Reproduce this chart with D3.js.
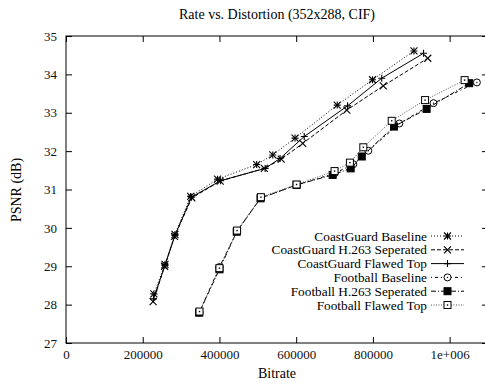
<html>
<head>
  <script src="https://d3js.org/d3.v7.min.js"></script>
  <style>
  body{ margin:0; background:#fff; }
  svg{ display:block; font-family:"Liberation Serif","Times New Roman",serif; }
  </style>
</head>
<body>
<script type="text/javascript">
  var width=485, height=388;
  var padL=66, padR=488, padT=36, padB=343;

  var xTicks=[0,200000,400000,600000,800000,1000000];
  var xTickLabels=["0","200000","400000","600000","800000","1e+006"];
  var yTicks=[27,28,29,30,31,32,33,34,35];

  var seriesNames=["CoastGuard Baseline","CoastGuard H.263 Seperated","CoastGuard Flawed Top",
                   "Football Baseline","Football H.263 Seperated","Football Flawed Top"];

  var cgBaseX=[229000,258000,284000,325000,395000,497000,539000,597000,707000,799000,907000];
  var cgBaseY=[28.28,29.05,29.83,30.82,31.27,31.65,31.90,32.34,33.20,33.86,34.61];
  var cgH263X=[227000,257000,283000,328000,402000,517000,561000,617000,732000,827000,943000];
  var cgH263Y=[28.08,29.00,29.78,30.78,31.22,31.55,31.79,32.20,33.07,33.70,34.42];
  var cgFlawX=[228000,258000,284000,327000,403000,519000,558000,621000,734000,823000,932000];
  var cgFlawY=[28.15,29.02,29.80,30.80,31.23,31.55,31.81,32.38,33.18,33.90,34.55];
  var fbBaseX=[348000,400000,446000,508000,602000,700000,749000,788000,869000,958000,1071000];
  var fbBaseY=[27.80,28.98,29.92,30.78,31.12,31.42,31.66,32.01,32.72,33.25,33.79];
  var fbH263X=[347000,400000,445000,507000,601000,695000,742000,771000,855000,940000,1051000];
  var fbH263Y=[27.79,28.92,29.90,30.77,31.12,31.38,31.55,31.86,32.64,33.10,33.77];
  var fbFlawX=[348000,400000,446000,508000,601000,700000,740000,775000,849000,936000,1039000];
  var fbFlawY=[27.82,28.95,29.93,30.80,31.13,31.48,31.70,32.10,32.79,33.33,33.85];

  var allX=[cgBaseX,cgH263X,cgFlawX,fbBaseX,fbH263X,fbFlawX];
  var allY=[cgBaseY,cgH263Y,cgFlawY,fbBaseY,fbH263Y,fbFlawY];
  var dashes=["1,2","4,2","","1,3,3,3","5,2,1,2","1,1.5"];
  var markers=["star","cross","plus","circle","fsquare","square"];
  var strokes=["#000","#000","#000","#000","#000","#555"];

  var x=d3.scaleLinear().domain([0,1100000]).range([padL,padR]);
  var y=d3.scaleLinear().domain([27,35]).range([padB,padT]);

  var svg=d3.select("body").append("svg")
            .attr("width",width)
            .attr("height",height);

  // frame
  svg.append("rect")
     .attr("x",padL).attr("y",padT)
     .attr("width",padR-padL).attr("height",padB-padT)
     .attr("fill","none").attr("stroke","#000").attr("stroke-width",1);

  // axes
  var ax=svg.append("g").attr("transform","translate(0,"+padB+")")
     .call(d3.axisBottom(x).tickValues(xTicks).tickSizeInner(-6).tickSizeOuter(0).tickPadding(7)
          .tickFormat(function(d,i){ return xTickLabels[i]; }));
  var ay=svg.append("g").attr("transform","translate("+padL+",0)")
     .call(d3.axisLeft(y).tickValues(yTicks).tickSizeInner(-6).tickSizeOuter(0).tickPadding(9)
          .tickFormat(d3.format("d")));
  var at=svg.append("g").attr("transform","translate(0,"+padT+")")
     .call(d3.axisTop(x).tickValues(xTicks).tickSizeInner(-6).tickSizeOuter(0).tickFormat(""));
  var ar=svg.append("g").attr("transform","translate("+padR+",0)")
     .call(d3.axisRight(y).tickValues(yTicks).tickSizeInner(-6).tickSizeOuter(0).tickFormat(""));
  [ax,ay,at,ar].forEach(function(g){
    g.select(".domain").remove();
    g.selectAll("line").attr("stroke","#000");
    g.selectAll("text").attr("fill","#111").style("font-size","13px")
     .style("font-family","'Liberation Serif',serif");
  });

  // titles
  svg.append("text").attr("x",277).attr("y",19).attr("text-anchor","middle")
     .style("font-size","14px").text("Rate vs. Distortion (352x288, CIF)");
  svg.append("text").attr("x",277).attr("y",378).attr("text-anchor","middle")
     .style("font-size","14px").text("Bitrate");
  svg.append("text").attr("transform","translate(21,190) rotate(-90)").attr("text-anchor","middle")
     .style("font-size","14px").text("PSNR (dB)");

  var drawMarker=function(g,type,cx,cy,col){
    var s=3.5;
    if(type=="plus"||type=="star"){
      g.append("path").attr("d","M"+(cx-s)+","+cy+"H"+(cx+s)+"M"+cx+","+(cy-s)+"V"+(cy+s))
       .attr("stroke",col).attr("stroke-width",1.1);
    }
    if(type=="cross"||type=="star"){
      g.append("path").attr("d","M"+(cx-s)+","+(cy-s)+"L"+(cx+s)+","+(cy+s)+"M"+(cx-s)+","+(cy+s)+"L"+(cx+s)+","+(cy-s))
       .attr("stroke",col).attr("stroke-width",1.1);
    }
    if(type=="circle"){
      g.append("circle").attr("cx",cx).attr("cy",cy).attr("r",3.5)
       .attr("fill","#fff").attr("stroke",col);
      g.append("circle").attr("cx",cx).attr("cy",cy).attr("r",0.7).attr("fill",col);
    }
    if(type=="square"||type=="fsquare"){
      g.append("rect").attr("x",cx-3.5).attr("y",cy-3.5).attr("width",7).attr("height",7)
       .attr("fill",type=="fsquare"?"#000":"#fff").attr("stroke",col);
      if(type=="square") g.append("rect").attr("x",cx-0.7).attr("y",cy-0.7).attr("width",1.4).attr("height",1.4).attr("fill",col);
    }
  };

  var line=d3.line().x(function(d){ return x(d[0]); }).y(function(d){ return y(d[1]); });

  seriesNames.forEach(function(name,i){
    var pts=allX[i].map(function(v,j){ return [v,allY[i][j]]; });
    var g=svg.append("g");
    g.append("path").datum(pts).attr("d",line)
     .attr("fill","none").attr("stroke",strokes[i]).attr("stroke-width",1)
     .attr("stroke-dasharray",dashes[i]);
    pts.forEach(function(p){ drawMarker(g,markers[i],x(p[0]),y(p[1]),"#000"); });

    // legend
    var ly=236+i*13.8;
    svg.append("text").attr("x",427).attr("y",ly+4.5).attr("text-anchor","end")
       .style("font-size","13.3px").text(name);
    svg.append("line").attr("x1",431).attr("x2",464).attr("y1",ly).attr("y2",ly)
       .attr("stroke",strokes[i]).attr("stroke-width",1).attr("stroke-dasharray",dashes[i]);
    drawMarker(svg,markers[i],447.5,ly,"#000");
  });
</script>
</body>
</html>
